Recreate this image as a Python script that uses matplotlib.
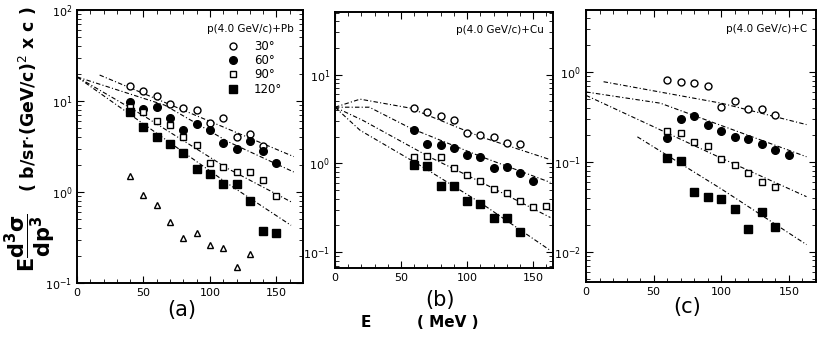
import numpy as np
import matplotlib
matplotlib.use("Agg")
import matplotlib.pyplot as plt
from matplotlib.ticker import LogLocator, MultipleLocator, NullFormatter

angles = ["30°", "60°", "90°", "120°"]

# ---- panel (a): p(4.0 GeV/c) + Pb ----
pb_E = [40, 50, 60, 70, 80, 90, 100, 110, 120, 130, 140, 150]
pb_30 = [14.6, 12.9, 11.4, 9.3, 8.4, 8.0, 5.7, 6.5, 4.0, 4.3, 3.2, None]
pb_60 = [9.8, 8.2, 8.6, 6.5, 4.8, 5.6, 4.8, 3.45, 2.95, 3.6, 2.8, 2.1]
pb_90 = [8.6, 7.6, 6.0, 5.4, 4.0, 3.3, 2.1, 1.9, 1.66, 1.66, 1.36, 0.9]
pb_120 = [7.5, 5.2, 4.0, 3.4, 2.7, 1.8, 1.58, 1.22, 1.22, 0.80, 0.37, 0.35]
pb_tri_E = [40, 50, 60, 70, 80, 90, 100, 110, 120, 130]
pb_tri = [1.5, 0.93, 0.72, 0.47, 0.31, 0.35, 0.26, 0.24, 0.15, 0.21]
pb_lines = [
    ([17, 114, 163], [19.3, 4.9, 2.45]),
    ([0, 66, 114, 163], [18.4, 9.0, 3.55, 1.66]),
    ([0, 50, 114, 161], [18.4, 6.9, 1.79, 0.78]),
    ([0, 50, 114, 161], [18.4, 5.6, 1.22, 0.43]),
]

# ---- panel (b): p(4.0 GeV/c) + Cu ----
cu_E = [60, 70, 80, 90, 100, 110, 120, 130, 140, 150, 160]
cu_30 = [4.2, 3.8, 3.4, 3.1, 2.2, 2.1, 1.98, 1.7, 1.64, None, None]
cu_60 = [2.36, 1.64, 1.6, 1.48, 1.23, 1.17, 0.88, 0.9, 0.77, 0.64, None]
cu_90 = [1.17, 1.2, 1.17, 0.88, 0.73, 0.64, 0.52, 0.46, 0.38, 0.32, 0.33]
cu_120 = [0.95, 0.93, 0.56, 0.55, 0.38, 0.35, 0.245, 0.24, 0.166, None, None]
cu_lines = [
    ([0, 19, 57, 110, 163], [4.3, 5.3, 4.2, 2.0, 1.1]),
    ([0, 26, 57, 110, 163], [4.3, 4.3, 2.5, 1.2, 0.61]),
    ([0, 21, 72, 110, 163], [4.3, 3.06, 1.17, 0.62, 0.245]),
    ([0, 19, 67, 110, 163], [4.3, 2.36, 0.9, 0.36, 0.104]),
]

# ---- panel (c): p(4.0 GeV/c) + C ----
c_E = [60, 70, 80, 90, 100, 110, 120, 130, 140, 150]
c_30 = [0.81, 0.77, 0.75, 0.70, 0.41, 0.48, 0.39, 0.385, 0.33, None]
c_60 = [0.185, 0.30, 0.32, 0.26, 0.22, 0.19, 0.18, 0.158, 0.134, 0.12]
c_90 = [0.223, 0.21, 0.168, 0.15, 0.107, 0.093, 0.075, 0.06, 0.052, None]
c_120 = [0.11, 0.103, 0.046, 0.041, 0.039, 0.030, 0.018, 0.028, 0.019, None]
c_lines = [
    ([13, 100, 163], [0.78, 0.45, 0.26]),
    ([0, 55, 163], [0.6, 0.45, 0.114]),
    ([0, 100, 163], [0.55, 0.11, 0.041]),
    ([38, 100, 163], [0.19, 0.05, 0.012]),
]

styles = [
    dict(marker="o", mfc="white", mec="black", ms=5),
    dict(marker="o", mfc="black", mec="black", ms=5.5),
    dict(marker="s", mfc="white", mec="black", ms=5),
    dict(marker="s", mfc="black", mec="black", ms=5.5),
]
line_kw = dict(color="black", lw=0.8, ls=(0, (4, 2, 1, 2)))


def pts(E, v):
    pairs = [(e, y) for e, y in zip(E, v) if y is not None]
    return [p[0] for p in pairs], [p[1] for p in pairs]


def setup(ax, xmax, ylim):
    ax.set_yscale("log")
    ax.set_xlim(0, xmax)
    ax.set_ylim(*ylim)
    ax.xaxis.set_major_locator(MultipleLocator(50))
    ax.xaxis.set_minor_locator(MultipleLocator(10))
    ax.yaxis.set_major_locator(LogLocator(base=10))
    ax.yaxis.set_minor_locator(LogLocator(base=10, subs=np.arange(2, 10)))
    ax.yaxis.set_minor_formatter(NullFormatter())
    ax.tick_params(which="both", direction="in", top=True, right=True, labelsize=8)
    ax.tick_params(which="major", length=5)
    ax.tick_params(which="minor", length=3)
    for s in ax.spines.values():
        s.set_linewidth(1.4)


fig = plt.figure(figsize=(8.3, 3.42), dpi=100)
ax_a = fig.add_axes([0.0928, 0.1725, 0.2723, 0.7982])
ax_b = fig.add_axes([0.4036, 0.2164, 0.2627, 0.7485])
ax_c = fig.add_axes([0.706, 0.1754, 0.2771, 0.7953])

panels = [
    (ax_a, pb_E, [pb_30, pb_60, pb_90, pb_120], pb_lines, 170, (0.1, 100), "p(4.0 GeV/c)+Pb"),
    (ax_b, cu_E, [cu_30, cu_60, cu_90, cu_120], cu_lines, 165, (0.066, 51), "p(4.0 GeV/c)+Cu"),
    (ax_c, c_E, [c_30, c_60, c_90, c_120], c_lines, 170, (0.0046, 4.9), "p(4.0 GeV/c)+C"),
]

for ax, E, series, lines, xmax, ylim, title in panels:
    setup(ax, xmax, ylim)
    for lx, ly in lines:
        ax.plot(lx, ly, **line_kw)
    for vals, st, lab in zip(series, styles, angles):
        x, y = pts(E, vals)
        ax.plot(x, y, ls="none", label=lab, **st)
    ax.text(0.96, 0.93, title, transform=ax.transAxes, ha="right", va="center",
            fontsize=7.5)

ax_a.plot(pb_tri_E, pb_tri, ls="none", marker="^", mfc="white", mec="black", ms=4)
ax_a.legend(loc="upper left", bbox_to_anchor=(0.6, 0.92), frameon=False,
            fontsize=8.5, handletextpad=0.8, labelspacing=0.1, borderpad=0.2)

fig.text(0.219, 0.093, "(a)", fontsize=15, ha="center", va="center")
fig.text(0.530, 0.122, "(b)", fontsize=15, ha="center", va="center")
fig.text(0.828, 0.102, "(c)", fontsize=15, ha="center", va="center")
fig.text(0.441, 0.056, "E", fontsize=11, ha="center", va="center", weight="bold")
fig.text(0.539, 0.056, "( MeV )", fontsize=11, ha="center", va="center", weight="bold")

# y label: big fraction below, units above
fig.text(0.034, 0.71, r"( b/sr$\cdot$(GeV/c)$^2$ x c )",
         rotation=90, fontsize=12.5, ha="center", va="center", weight="bold")
fig.text(0.036, 0.29, r"$\mathbf{E}\dfrac{\mathbf{d^3\sigma}}{\mathbf{dp^3}}$",
         rotation=90, fontsize=15, ha="center", va="center")

fig.savefig("out.png", dpi=100)
